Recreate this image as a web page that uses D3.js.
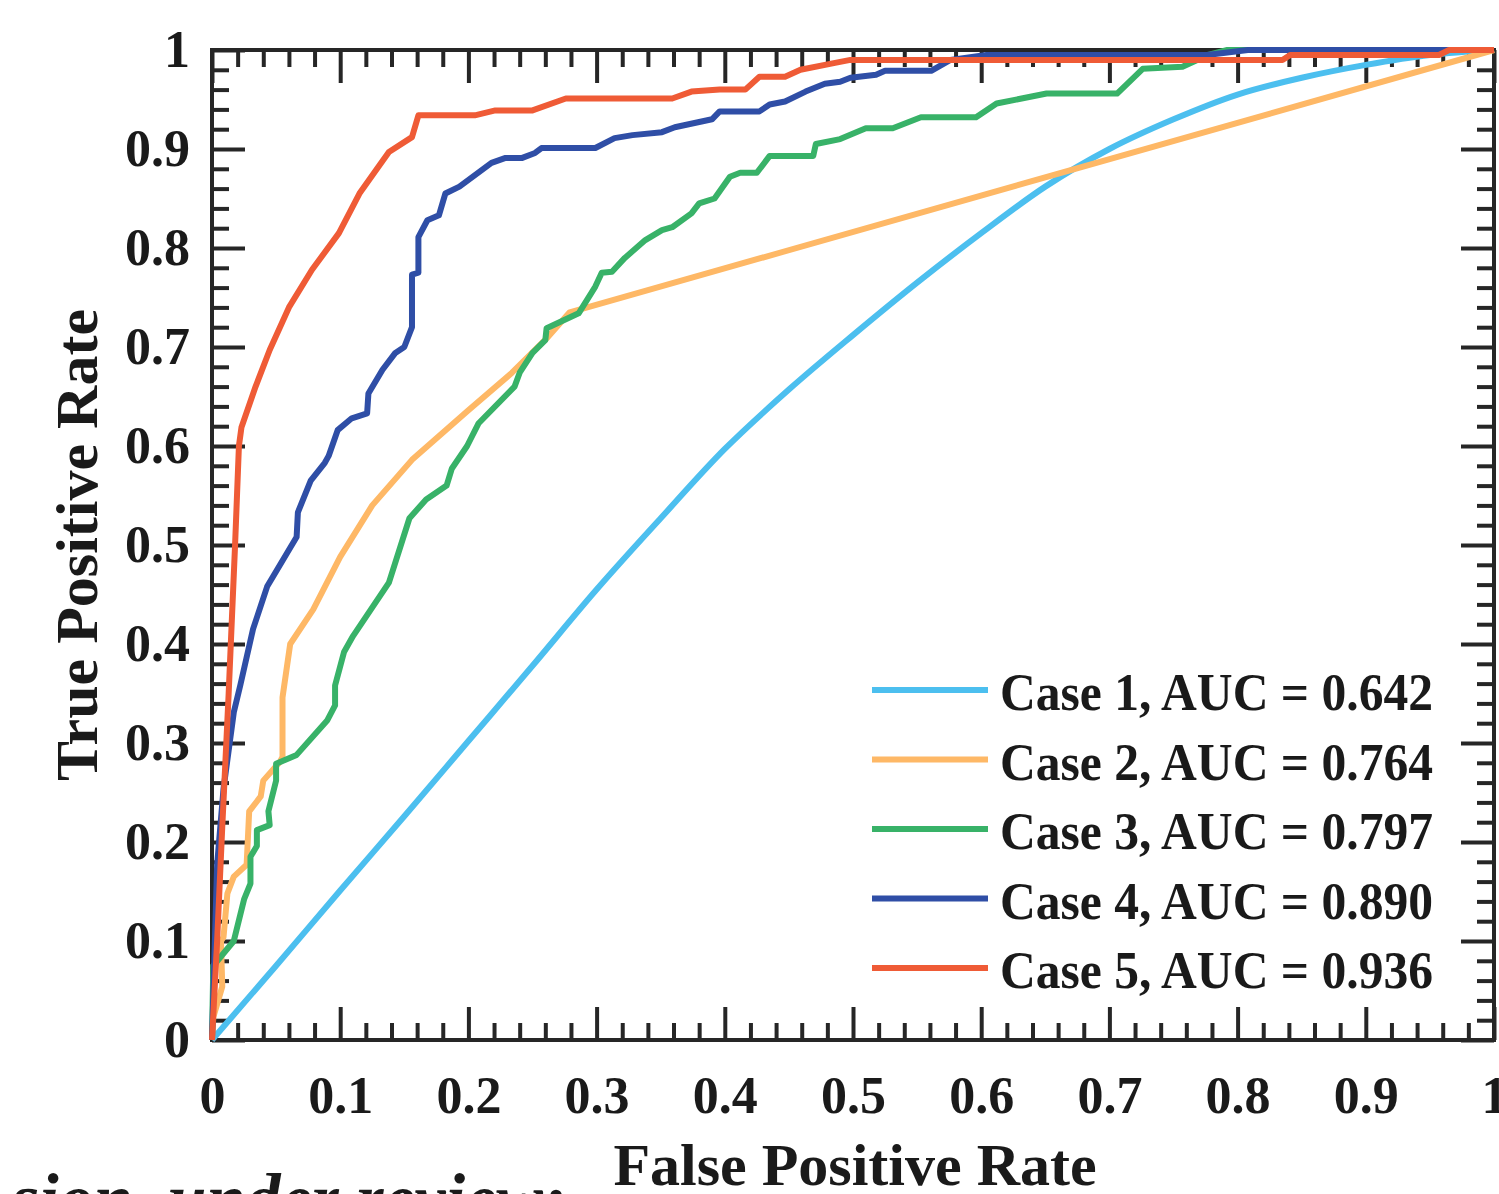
<!DOCTYPE html>
<html>
<head>
<meta charset="utf-8">
<script src="https://cdn.jsdelivr.net/npm/d3@7/dist/d3.min.js"></script>
<style>
  body { margin: 0; background: #fff; }
  svg text { font-family: "Liberation Serif", "Times New Roman", serif; font-weight: bold; fill: #1a1a1a; }
</style>
</head>
<body>
<div id="chart"></div>
<script>
/* ── DATA (FPR, TPR) ── */
const case1 = [[0,0],[0.05,0.075],[0.1,0.151],[0.15,0.226],[0.2,0.302],[0.25,0.378],[0.3,0.455],[0.35,0.527],
  [0.4,0.597],[0.45,0.657],[0.5,0.712],[0.55,0.765],[0.6,0.815],[0.65,0.862],[0.7,0.9],[0.75,0.93],
  [0.8,0.955],[0.85,0.972],[0.9,0.985],[0.95,0.995],[1,1]];

const case2 = [[0,0],[0.001,0.023],[0.008,0.054],[0.007,0.1],[0.009,0.104],[0.012,0.148],[0.017,0.165],
  [0.027,0.177],[0.029,0.231],[0.038,0.246],[0.040,0.262],[0.053,0.281],[0.055,0.286],[0.055,0.346],
  [0.061,0.4],[0.079,0.435],[0.1,0.488],[0.125,0.54],[0.156,0.586],[0.2,0.636],[0.234,0.674],
  [0.262,0.71],[0.279,0.735],[1,1]];

const case3 = [[0,0],[0.001,0.075],[0.017,0.1],[0.025,0.142],[0.03,0.158],[0.03,0.185],[0.035,0.196],
  [0.035,0.212],[0.045,0.217],[0.044,0.231],[0.05,0.262],[0.05,0.279],[0.066,0.288],[0.09,0.323],
  [0.096,0.338],[0.096,0.358],[0.103,0.392],[0.11,0.408],[0.138,0.462],[0.154,0.527],[0.167,0.546],
  [0.183,0.56],[0.187,0.577],[0.199,0.6],[0.208,0.623],[0.236,0.66],[0.24,0.674],[0.25,0.694],
  [0.26,0.707],[0.261,0.719],[0.286,0.734],[0.299,0.761],[0.304,0.775],[0.312,0.776],[0.322,0.79],
  [0.338,0.808],[0.351,0.818],[0.359,0.821],[0.374,0.835],[0.38,0.845],[0.392,0.85],[0.404,0.872],
  [0.412,0.876],[0.425,0.876],[0.435,0.893],[0.469,0.893],[0.471,0.905],[0.49,0.91],[0.51,0.921],
  [0.531,0.921],[0.553,0.932],[0.596,0.932],[0.612,0.946],[0.651,0.956],[0.706,0.956],[0.726,0.981],
  [0.757,0.983],[0.777,0.995],[0.792,1],[1,1]];

const case4 = [[0,0],[0.004,0.177],[0.009,0.254],[0.017,0.331],[0.022,0.358],[0.032,0.415],[0.043,0.458],
  [0.048,0.469],[0.066,0.508],[0.067,0.533],[0.077,0.565],[0.088,0.583],[0.091,0.59],[0.098,0.616],
  [0.109,0.628],[0.121,0.633],[0.122,0.653],[0.133,0.677],[0.143,0.694],[0.15,0.7],[0.156,0.72],
  [0.156,0.773],[0.161,0.775],[0.161,0.811],[0.168,0.828],[0.177,0.833],[0.182,0.855],[0.193,0.862],
  [0.218,0.886],[0.229,0.891],[0.242,0.891],[0.252,0.896],[0.257,0.901],[0.299,0.901],[0.314,0.911],
  [0.328,0.914],[0.351,0.917],[0.361,0.922],[0.39,0.93],[0.396,0.938],[0.427,0.938],[0.435,0.945],
  [0.447,0.948],[0.463,0.958],[0.478,0.966],[0.49,0.968],[0.498,0.972],[0.518,0.975],[0.525,0.979],
  [0.561,0.979],[0.576,0.99],[0.604,0.995],[0.776,0.995],[0.808,1],[1,1]];

const case5 = [[0,0],[0.004,0.1],[0.008,0.215],[0.013,0.35],[0.018,0.5],[0.021,0.6],[0.023,0.619],
  [0.034,0.66],[0.045,0.697],[0.06,0.74],[0.078,0.778],[0.099,0.815],[0.115,0.855],[0.138,0.897],
  [0.156,0.912],[0.161,0.934],[0.205,0.934],[0.221,0.939],[0.25,0.939],[0.276,0.951],[0.359,0.951],
  [0.374,0.958],[0.396,0.96],[0.416,0.96],[0.427,0.973],[0.447,0.973],[0.459,0.98],[0.486,0.987],
  [0.498,0.99],[0.835,0.99],[0.841,0.995],[0.957,0.995],[0.965,1],[1,1]];

const caseNames = ['Case 1', 'Case 2', 'Case 3', 'Case 4', 'Case 5'];
const aucValues = ['0.642', '0.764', '0.797', '0.890', '0.936'];
const majorTicks = [0, 0.1, 0.2, 0.3, 0.4, 0.5, 0.6, 0.7, 0.8, 0.9, 1];
const tickLabels = ['0', '0.1', '0.2', '0.3', '0.4', '0.5', '0.6', '0.7', '0.8', '0.9', '1'];

/* ── COLORS ── */
const COLORS = ['#4cbfef', '#feb866', '#38b268', '#2f4ea6', '#ef5b36'];
const AXIS   = '#262626';

/* ── LAYOUT ── */
const W = 1499, H = 1194;
const plot = { left: 212, right: 1494, top: 50, bottom: 1040 };

const x = d3.scaleLinear().domain([0, 1]).range([plot.left, plot.right]);
const y = d3.scaleLinear().domain([0, 1]).range([plot.bottom, plot.top]);

const svg = d3.select('#chart').append('svg').attr('width', W).attr('height', H);
svg.append('rect').attr('width', W).attr('height', H).attr('fill', '#fff');

const minorTicks = d3.range(0, 51).filter(i => i % 5 !== 0).map(i => i / 50);
const tickIdx = v => majorTicks.findIndex(t => Math.abs(t - v) < 1e-9);

function styleAxis(g) {
  g.select('.domain').remove();
  g.selectAll('line').attr('stroke', AXIS).attr('stroke-width', 4);
}

/* ── AXES: ticks point inward on all four sides ── */
// bottom
svg.append('g').attr('transform', `translate(0,${plot.bottom})`)
  .call(d3.axisBottom(x).tickValues(majorTicks).tickSize(-33).tickPadding(36)
    .tickFormat(d => tickLabels[tickIdx(d)]))
  .call(styleAxis)
  .selectAll('text').attr('font-size', 52).attr('fill', '#1a1a1a').attr('font-family', null);
svg.append('g').attr('transform', `translate(0,${plot.bottom})`)
  .call(d3.axisBottom(x).tickValues(minorTicks).tickSize(-17).tickFormat(''))
  .call(styleAxis);
// top
svg.append('g').attr('transform', `translate(0,${plot.top})`)
  .call(d3.axisTop(x).tickValues(majorTicks).tickSize(-33).tickFormat(''))
  .call(styleAxis);
svg.append('g').attr('transform', `translate(0,${plot.top})`)
  .call(d3.axisTop(x).tickValues(minorTicks).tickSize(-17).tickFormat(''))
  .call(styleAxis);
// left
svg.append('g').attr('transform', `translate(${plot.left},0)`)
  .call(d3.axisLeft(y).tickValues(majorTicks).tickSize(-33).tickPadding(22)
    .tickFormat(d => tickLabels[tickIdx(d)]))
  .call(styleAxis)
  .selectAll('text').attr('font-size', 52).attr('fill', '#1a1a1a').attr('font-family', null);
svg.append('g').attr('transform', `translate(${plot.left},0)`)
  .call(d3.axisLeft(y).tickValues(minorTicks).tickSize(-17).tickFormat(''))
  .call(styleAxis);
// right
svg.append('g').attr('transform', `translate(${plot.right},0)`)
  .call(d3.axisRight(y).tickValues(majorTicks).tickSize(-33).tickFormat(''))
  .call(styleAxis);
svg.append('g').attr('transform', `translate(${plot.right},0)`)
  .call(d3.axisRight(y).tickValues(minorTicks).tickSize(-17).tickFormat(''))
  .call(styleAxis);

// box
svg.append('rect')
  .attr('x', plot.left).attr('y', plot.top)
  .attr('width', plot.right - plot.left).attr('height', plot.bottom - plot.top)
  .attr('fill', 'none').attr('stroke', AXIS).attr('stroke-width', 4);

/* ── CURVES ── */
const series = [case1, case2, case3, case4, case5];
const line = d3.line().x(d => x(d[0])).y(d => y(d[1]));
const smooth = d3.line().x(d => x(d[0])).y(d => y(d[1])).curve(d3.curveMonotoneX);

series.forEach((data, i) => {
  svg.append('path').datum(data)
    .attr('d', i === 0 ? smooth : line)
    .attr('fill', 'none')
    .attr('stroke', COLORS[i])
    .attr('stroke-width', 6)
    .attr('stroke-linejoin', 'round');
});

/* ── LEGEND ── */
const legend = svg.append('g');
caseNames.forEach((name, i) => {
  const ly = 690 + i * 69.5;
  legend.append('line')
    .attr('x1', 872).attr('x2', 988).attr('y1', ly).attr('y2', ly)
    .attr('stroke', COLORS[i]).attr('stroke-width', 6);
  legend.append('text')
    .attr('x', 1000).attr('y', ly + 20)
    .attr('font-size', 52)
    .attr('textLength', 433).attr('lengthAdjust', 'spacingAndGlyphs')
    .text(`${name}, AUC = ${aucValues[i]}`);
});

/* ── AXIS TITLES ── */
svg.append('text')
  .attr('x', (plot.left + plot.right) / 2 + 2).attr('y', 1185)
  .attr('text-anchor', 'middle').attr('font-size', 60)
  .text('False Positive Rate');

svg.append('text')
  .attr('transform', `translate(97,545) rotate(-90)`)
  .attr('text-anchor', 'middle').attr('font-size', 60)
  .text('True Positive Rate');

/* ── cropped caption fragment at the bottom edge ── */
svg.append('text')
  .attr('x', 12).attr('y', 1222)
  .attr('font-size', 70).attr('font-style', 'italic').attr('font-weight', 'normal')
  .text('sion, under review;');
</script>
</body>
</html>
